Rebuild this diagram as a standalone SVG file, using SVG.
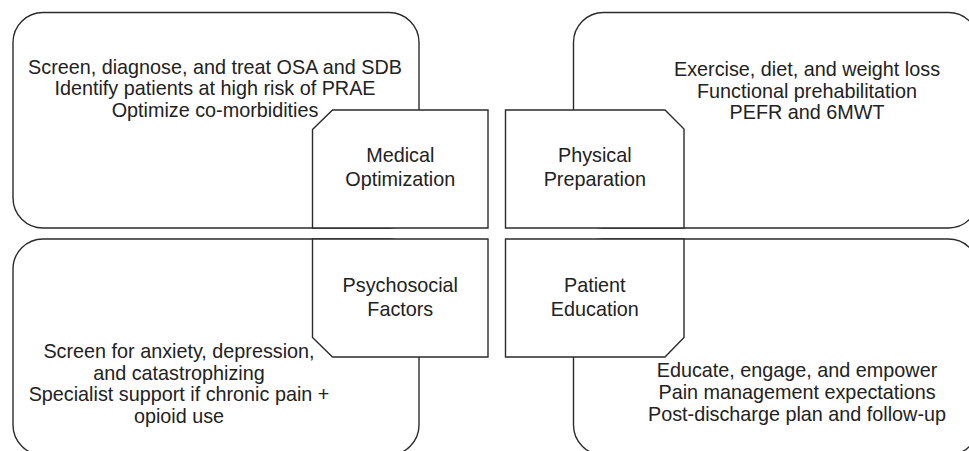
<svg xmlns="http://www.w3.org/2000/svg" width="969" height="451" viewBox="0 0 969 451">
<style>
.big{fill:#fff;stroke:#2b2b2b;stroke-width:1.4}
.tab{fill:#fff;stroke:#2b2b2b;stroke-width:1.4;stroke-linejoin:miter}
text{font-family:"Liberation Sans",Arial,Helvetica,sans-serif;font-size:19.8px;fill:#222;text-anchor:middle}
</style>
<rect width="969" height="451" fill="#fff"/>
<g id="panel-medical">
<rect class="big" x="13" y="12.5" width="406" height="215.5" rx="30" ry="30"/>
<text x="215" y="74">Screen, diagnose, and treat OSA and SDB</text>
<text x="215" y="95.3">Identify patients at high risk of PRAE</text>
<text x="215" y="116.6">Optimize co-morbidities</text>
</g>
<g id="panel-physical">
<rect class="big" x="573.5" y="12.5" width="405" height="215.5" rx="30" ry="30"/>
<text x="807" y="76.3">Exercise, diet, and weight loss</text>
<text x="807" y="97.8">Functional prehabilitation</text>
<text x="807" y="119.3">PEFR and 6MWT</text>
</g>
<g id="panel-psychosocial">
<rect class="big" x="13" y="239" width="406" height="216" rx="30" ry="30"/>
<text x="179" y="358">Screen for anxiety, depression,</text>
<text x="179" y="379.7">and catastrophizing</text>
<text x="179" y="401.4">Specialist support if chronic pain +</text>
<text x="179" y="423.1">opioid use</text>
</g>
<g id="panel-education">
<rect class="big" x="573.5" y="239" width="405" height="216" rx="30" ry="30"/>
<text x="797" y="377.3">Educate, engage, and empower</text>
<text x="797" y="399">Pain management expectations</text>
<text x="797" y="420.7">Post-discharge plan and follow-up</text>
</g>
<g id="medical-optimization">
<polygon class="tab" points="312.5,129.5 332.5,110 488,110 488,228 312.5,228"/>
<text x="400.3" y="162.3">Medical</text>
<text x="400.3" y="186">Optimization</text>
</g>
<g id="physical-preparation">
<polygon class="tab" points="505.5,110 665,110 684,129 684,228 505.5,228"/>
<text x="594.8" y="162.3">Physical</text>
<text x="594.8" y="186">Preparation</text>
</g>
<g id="psychosocial-factors">
<polygon class="tab" points="312.5,239 488,239 488,357 332.5,357 312.5,337.5"/>
<text x="400.3" y="292.3">Psychosocial</text>
<text x="400.3" y="316">Factors</text>
</g>
<g id="patient-education">
<polygon class="tab" points="505.5,239 684,239 684,337.5 665,357 505.5,357"/>
<text x="594.8" y="292.3">Patient</text>
<text x="594.8" y="316">Education</text>
</g>
<g id="connectors"></g>
</svg>
